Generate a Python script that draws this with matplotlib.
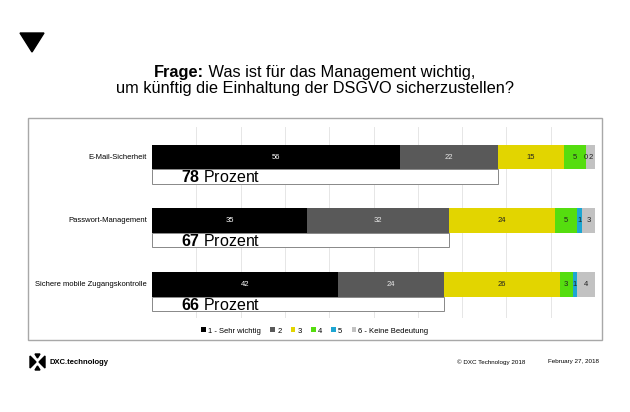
import matplotlib.pyplot as plt
from matplotlib.patches import Rectangle, Polygon

plt.rcParams['font.family'] = ['Liberation Sans', 'DejaVu Sans']
plt.rcParams['mathtext.fontset'] = 'custom'
plt.rcParams['mathtext.rm'] = 'Liberation Sans'
plt.rcParams['mathtext.bf'] = 'Liberation Sans:bold'

categories = ['E-Mail-Sicherheit', 'Passwort-Management', 'Sichere mobile Zugangskontrolle']
series_names = ['1 - Sehr wichtig', '2', '3', '4', '5', '6 - Keine Bedeutung']
values = [
    [56, 22, 15, 5, 0, 2],
    [35, 32, 24, 5, 1, 3],
    [42, 24, 26, 3, 1, 4],
]
top2 = [78, 67, 66]
colors = ['#000000', '#595959', '#e2d500', '#55dd0f', '#1ea6d2', '#c2c2c2']
text_colors = ['white', '#e8e8e8', '#222222', '#222222', '#222222', '#222222']

fig = plt.figure(figsize=(6.3, 4.12), dpi=100)

def fx(px):
    return px / 630

def fy(px):
    return 1 - px / 412

# triangle marker top left
fig.patches.append(Polygon([(fx(20), fy(33)), (fx(44), fy(33)), (fx(32), fy(52))],
                           closed=True, color='black', transform=fig.transFigure))

# title, first line is bold part + normal part
renderer = fig.canvas.get_renderer()
t_bold = fig.text(0, fy(72), 'Frage:', ha='left', va='center', fontsize=11.8, fontweight='bold')
t_rest = fig.text(0, fy(72), ' Was ist für das Management wichtig,', ha='left', va='center', fontsize=11.8)
w_bold = t_bold.get_window_extent(renderer).width / 630
w_rest = t_rest.get_window_extent(renderer).width / 630
x0 = 0.5 - (w_bold + w_rest) / 2
t_bold.set_x(x0)
t_rest.set_x(x0 + w_bold)
fig.text(0.5, fy(89), 'um künftig die Einhaltung der DSGVO sicherzustellen?', ha='center', va='center', fontsize=11.8)

# frame around chart
fig.patches.append(Rectangle((fx(28), fy(340)), fx(574), 222 / 412, fill=False,
                             edgecolor='#a8a8a8', linewidth=1.0, transform=fig.transFigure))

ax = fig.add_axes([fx(152), fy(318), fx(443), 191 / 412])
ax.set_xlim(0, 100)
ax.set_ylim(2.52, -0.47)
for s in ax.spines.values():
    s.set_visible(False)
ax.set_xticks(range(10, 101, 10))
ax.xaxis.grid(True, color='#e6e6e6', linewidth=0.7)
ax.set_axisbelow(True)
ax.tick_params(length=0, labelbottom=False, labelleft=False)

bar_h = 0.39
for i, row in enumerate(values):
    left = 0
    for j, v in enumerate(row):
        ax.barh(i, v, left=left, height=bar_h, color=colors[j], label=series_names[j] if i == 0 else None)
        ax.text(left + v / 2, i, str(v), ha='center', va='center',
                fontsize=5.5, color=text_colors[j])
        left += v
    # top-2 box
    ax.add_patch(Rectangle((0, i + bar_h / 2), top2[i], 0.22, facecolor='white',
                           edgecolor='#888888', linewidth=0.7))
    ax.text(6.5, i + bar_h / 2 + 0.12, r'$\mathbf{%d}$ Prozent' % top2[i], ha='left', va='center', fontsize=11.5)
    fig.text(fx(147), ax.transData.transform((0, i))[1] / fig.bbox.height, categories[i],
             ha='right', va='center', fontsize=5.5)

leg = fig.legend(loc='center', bbox_to_anchor=(0.5, fy(331)), ncol=6, frameon=False,
                 fontsize=5.5, handlelength=0.6, handleheight=0.6, handletextpad=0.3, columnspacing=1.2)

# footer logo
fig.patches.append(Polygon([(fx(30), fy(356)), (fx(36), fy(362)), (fx(30), fy(368))],
                           closed=True, color='black', transform=fig.transFigure))
fig.patches.append(Polygon([(fx(45), fy(356)), (fx(39), fy(362)), (fx(45), fy(368))],
                           closed=True, color='black', transform=fig.transFigure))
fig.patches.append(Polygon([(fx(35), fy(354)), (fx(40), fy(354)), (fx(37.5), fy(358))],
                           closed=True, color='black', transform=fig.transFigure))
fig.patches.append(Polygon([(fx(35), fy(370)), (fx(40), fy(370)), (fx(37.5), fy(366))],
                           closed=True, color='black', transform=fig.transFigure))
fig.text(fx(50), fy(362), 'DXC.technology', ha='left', va='center', fontsize=5.5, fontweight='bold')
fig.text(fx(525), fy(362), '© DXC Technology 2018', ha='right', va='center', fontsize=4.5)
fig.text(fx(599), fy(362), 'February 27, 2018', ha='right', va='center', fontsize=4.5)

fig.savefig('out.png', dpi=100)
